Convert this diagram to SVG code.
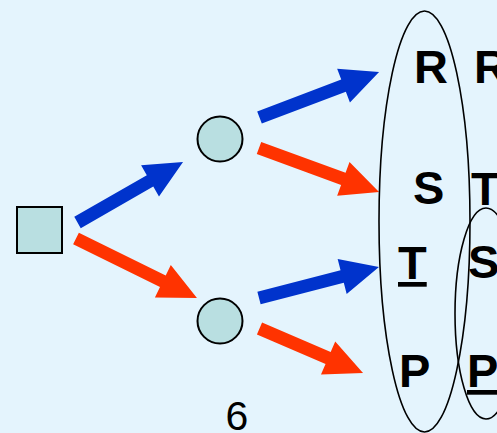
<svg xmlns="http://www.w3.org/2000/svg" width="497" height="433" viewBox="0 0 497 433">
<style>
.node{fill:#B9DFE1;stroke:#000;stroke-width:2}
.blue{fill:#0033CC}
.red{fill:#FF3300}
.lbl{font-family:"Liberation Sans",Arial,sans-serif;font-weight:bold;font-size:47px;fill:#000}
.u{text-decoration:underline}
.ell{fill:none;stroke:#000;stroke-width:1.6}
</style>
<rect width="497" height="433" fill="#E4F4FD"/>
<g id="decision"><rect class="node" x="17" y="207" width="45" height="46"/></g>
<g id="chance-top"><circle class="node" cx="220" cy="139" r="22.5"/></g>
<g id="chance-bottom"><circle class="node" cx="220" cy="321" r="22.5"/></g>
<g id="connectors">
<polygon class="blue" transform="translate(77.5,222.5) rotate(-29.8)" points="0,-6.5 83.6,-6.5 83.6,-18 121.6,0 83.6,18 83.6,6.5 0,6.5"/>
<polygon class="red" transform="translate(76,238.5) rotate(26.2)" points="0,-6.5 96.8,-6.5 96.8,-18 134.8,0 96.8,18 96.8,6.5 0,6.5"/>
<polygon class="blue" transform="translate(259.5,117.5) rotate(-20.8)" points="0,-6.5 89.9,-6.5 89.9,-18 127.9,0 89.9,18 89.9,6.5 0,6.5"/>
<polygon class="red" transform="translate(259,148) rotate(20.1)" points="0,-6.5 89.8,-6.5 89.8,-18 127.8,0 89.8,18 89.8,6.5 0,6.5"/>
<polygon class="blue" transform="translate(259,298) rotate(-14.5)" points="0,-6.5 85.9,-6.5 85.9,-18 123.9,0 85.9,18 85.9,6.5 0,6.5"/>
<polygon class="red" transform="translate(259.5,328.5) rotate(23.3)" points="0,-6.5 74.7,-6.5 74.7,-18 112.7,0 74.7,18 74.7,6.5 0,6.5"/>
</g>
<g id="outcomes">
<text class="lbl" x="414" y="83">R</text>
<text class="lbl" x="413" y="204">S</text>
<text class="lbl u" x="398" y="279">T</text>
<text class="lbl" x="399" y="387">P</text>
<text class="lbl" x="474" y="83">R</text>
<text class="lbl" x="471" y="205">T</text>
<text class="lbl" x="468" y="278">S</text>
<text class="lbl u" x="467" y="387">P</text>
</g>
<g id="groupings">
<ellipse class="ell" cx="424.5" cy="221.5" rx="45.5" ry="210.5"/>
<ellipse class="ell" cx="486" cy="313.5" rx="31" ry="105.5"/>
</g>
<text x="237" y="430" text-anchor="middle" font-family="Liberation Sans,Arial,sans-serif" font-size="41" fill="#000">6</text>
</svg>
